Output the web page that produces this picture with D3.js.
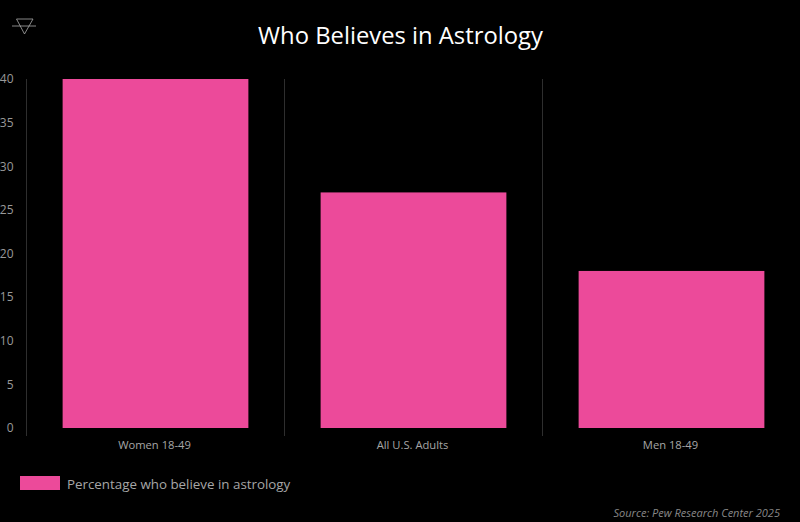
<!DOCTYPE html>
<html>
<head>
<meta charset="utf-8">
<script src="https://cdn.jsdelivr.net/npm/d3@7"></script>
<style>
  html, body { margin: 0; padding: 0; background: #000; overflow: hidden; }
  text { font-family: "Open Sans", "Noto Sans", sans-serif; }
</style>
</head>
<body>
<svg id="chart" width="800" height="522"></svg>
<script>
var categories = ['Women 18-49', 'All U.S. Adults', 'Men 18-49']
var values = [40, 27, 18]
var yTicks = [0, 5, 10, 15, 20, 25, 30, 35, 40]

var pink = '#ec4a9a'
var svg = d3.select('#chart')

var x = d3.scaleBand()
  .domain(categories)
  .range([26.5, 800.5])
  .paddingInner(0.28)
  .paddingOuter(0.14)

var y = d3.scaleLinear()
  .domain([0, 40])
  .range([428, 79])

// Vertical separators between the categories
svg.append('g').selectAll('line')
  .data(categories)
  .join('line')
  .attr('x1', function(d) { return x(d) - x.step() * 0.14 })
  .attr('x2', function(d) { return x(d) - x.step() * 0.14 })
  .attr('y1', y(40))
  .attr('y2', y(0) + 8)
  .attr('stroke', '#2e2e2e')

// Bars
svg.append('g').selectAll('rect')
  .data(values)
  .join('rect')
  .attr('x', function(d, i) { return x(categories[i]) })
  .attr('y', function(d) { return y(d) })
  .attr('width', x.bandwidth())
  .attr('height', function(d) { return y(0) - y(d) })
  .attr('fill', pink)

// Axes
var yAxis = svg.append('g')
  .attr('transform', 'translate(26.5,0)')
  .call(d3.axisLeft(y).tickValues(yTicks).tickSize(0).tickPadding(13))
yAxis.select('.domain').remove()
yAxis.selectAll('text')
  .attr('fill', '#999')
  .style('font-size', '12px')

var xAxis = svg.append('g')
  .attr('transform', 'translate(-1,' + y(0) + ')')
  .call(d3.axisBottom(x).tickSize(0).tickPadding(13.5))
xAxis.select('.domain').remove()
xAxis.selectAll('text')
  .attr('fill', '#a6a6a6')
  .style('font-size', '11.2px')

// Title
svg.append('text')
  .attr('x', 400.5)
  .attr('y', 44)
  .attr('text-anchor', 'middle')
  .attr('fill', '#fff')
  .style('font-size', '23.8px')
  .style('font-weight', 500)
  .text('Who Believes in Astrology')

// Icon in the top left corner
var icon = svg.append('g')
  .attr('fill', 'none')
  .attr('stroke', '#aaa')
  .attr('stroke-width', 0.8)
icon.append('path').attr('d', 'M16.5,19 L33,19 L24.5,34 Z')
icon.append('line').attr('x1', 12).attr('x2', 36).attr('y1', 26).attr('y2', 26)

// Legend
svg.append('rect')
  .attr('x', 20)
  .attr('y', 476)
  .attr('width', 40)
  .attr('height', 14)
  .attr('fill', pink)
svg.append('text')
  .attr('x', 67)
  .attr('y', 489)
  .attr('fill', '#a6a6a6')
  .style('font-size', '13.35px')
  .text('Percentage who believe in astrology')

// Source
svg.append('text')
  .attr('x', 780)
  .attr('y', 516.5)
  .attr('text-anchor', 'end')
  .attr('fill', '#888')
  .style('font-size', '11px')
  .style('font-style', 'italic')
  .text('Source: Pew Research Center 2025')
</script>
</body>
</html>
